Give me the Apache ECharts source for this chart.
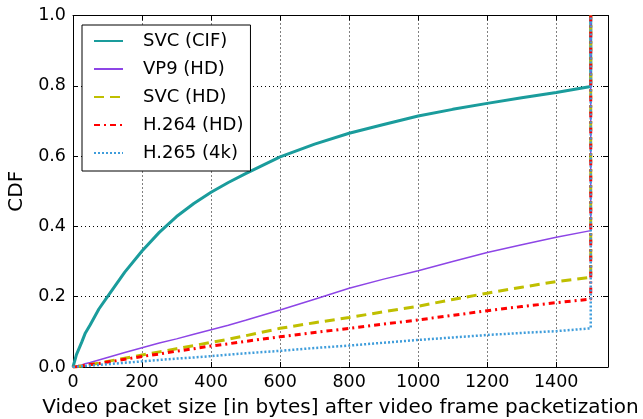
<!DOCTYPE html>
<html>
<head>
<meta charset="utf-8">
<script src="https://cdn.jsdelivr.net/npm/echarts@6/dist/echarts.min.js"></script>
<style>
html,body{margin:0;padding:0;background:#fff;}
#chart{width:643px;height:419px;}
</style>
</head>
<body>
<div id="chart"></div>
<script>
// Packet size (bytes) sample points; last two points form the step at 1500 bytes
const packetSizes = [0, 10, 25, 35, 50, 75, 100, 150, 200, 250, 300, 350, 400, 450, 500, 600, 700, 800, 900, 1000, 1100, 1200, 1300, 1400, 1500, 1500];

const svcCif  = [0, 0.035, 0.07, 0.095, 0.12, 0.165, 0.2, 0.27, 0.33, 0.383, 0.428, 0.465, 0.497, 0.525, 0.55, 0.598, 0.634, 0.665, 0.69, 0.714, 0.733, 0.75, 0.766, 0.781, 0.798, 1.0];
const vp9Hd   = [0, 0.003, 0.006, 0.009, 0.013, 0.02, 0.027, 0.041, 0.055, 0.068, 0.08, 0.093, 0.106, 0.119, 0.133, 0.162, 0.193, 0.224, 0.25, 0.274, 0.3, 0.326, 0.348, 0.369, 0.388, 1.0];
const svcHd   = [0, 0.001, 0.003, 0.005, 0.007, 0.011, 0.016, 0.025, 0.034, 0.043, 0.052, 0.061, 0.07, 0.079, 0.089, 0.11, 0.126, 0.141, 0.157, 0.173, 0.192, 0.21, 0.227, 0.243, 0.255, 1.0];
const h264Hd  = [0, 0.001, 0.003, 0.005, 0.007, 0.01, 0.014, 0.022, 0.03, 0.037, 0.045, 0.052, 0.06, 0.066, 0.073, 0.086, 0.098, 0.11, 0.122, 0.134, 0.147, 0.16, 0.172, 0.183, 0.193, 1.0];
const h265_4k = [0, 0.001, 0.002, 0.003, 0.004, 0.006, 0.008, 0.012, 0.016, 0.02, 0.024, 0.027, 0.031, 0.035, 0.039, 0.046, 0.054, 0.061, 0.069, 0.077, 0.084, 0.091, 0.097, 0.102, 0.11, 1.0];

const seriesNames = ['SVC (CIF)', 'VP9 (HD)', 'SVC (HD)', 'H.264 (HD)', 'H.265 (4k)'];
const xTickValues = [0, 200, 400, 600, 800, 1000, 1200, 1400];
const yTickValues = [0.0, 0.2, 0.4, 0.6, 0.8, 1.0];

const xLabelText = 'Video packet size [in bytes] after video frame packetization';
const yLabelText = 'CDF';

const FONT = 'DejaVu Sans';

function pairs(ys) { return packetSizes.map((x, i) => [x, ys[i]]); }

const styles = [
  { color: '#1a9c9c', width: 3, type: 'solid' },
  { color: '#8d45e6', width: 1.5, type: 'solid' },
  { color: '#bfbf00', width: 3, type: [10, 6] },
  { color: '#ff0000', width: 3, type: [6, 4, 2, 4] },
  { color: '#3f9ddb', width: 2.5, type: [2, 2] }
];
const allData = [svcCif, vp9Hd, svcHd, h264Hd, h265_4k];

const chart = echarts.init(document.getElementById('chart'), null, { renderer: 'canvas' });

const gridLine = { show: true, lineStyle: { color: '#000', width: 1, type: [1, 3] } };

const option = {
  animation: false,
  backgroundColor: '#fff',
  grid: { left: 73, right: 35, top: 15.5, bottom: 52, containLabel: false, outerBoundsMode: 'none' },
  legend: {
    orient: 'vertical',
    left: 82, top: 25,
    padding: [7, 7, 9, 11],
    borderColor: '#000', borderWidth: 1,
    backgroundColor: '#fff',
    itemWidth: 29, itemHeight: 14, itemGap: 10,
    itemStyle: { opacity: 0 },
    textStyle: { fontFamily: FONT, fontSize: 18, color: '#000', lineHeight: 18, padding: [0, 0, 0, 15] },
    data: seriesNames
  },
  xAxis: [
    {
      type: 'value', min: 0, max: 1550, interval: 200,
      name: xLabelText, nameLocation: 'middle', nameGap: 31,
      nameTextStyle: { fontFamily: FONT, fontSize: 20, color: '#000', verticalAlign: 'top' },
      axisLine: { show: true, onZero: false, lineStyle: { color: '#000', width: 1 } },
      axisTick: { show: true, inside: true, length: 5, lineStyle: { color: '#000' } },
      axisLabel: { fontFamily: FONT, fontSize: 17.5, color: '#000', margin: 6, showMaxLabel: false,
        formatter: v => (xTickValues.indexOf(v) >= 0 ? String(v) : '') },
      splitLine: gridLine
    },
    {
      type: 'value', min: 0, max: 1550, interval: 200, position: 'top',
      axisLine: { show: true, onZero: false, lineStyle: { color: '#000', width: 1 } },
      axisTick: { show: true, inside: true, length: 5, lineStyle: { color: '#000' } },
      axisLabel: { show: false },
      splitLine: { show: false }
    }
  ],
  yAxis: [
    {
      type: 'value', min: 0, max: 1, interval: 0.2,
      name: yLabelText, nameLocation: 'middle', nameGap: 45, nameRotate: 90,
      nameTextStyle: { fontFamily: FONT, fontSize: 20, color: '#000' },
      axisLine: { show: true, onZero: false, lineStyle: { color: '#000', width: 1 } },
      axisTick: { show: true, inside: true, length: 5, lineStyle: { color: '#000' } },
      axisLabel: { fontFamily: FONT, fontSize: 17.5, color: '#000', margin: 7,
        formatter: v => v.toFixed(1) },
      splitLine: gridLine
    },
    {
      type: 'value', min: 0, max: 1, interval: 0.2, position: 'right',
      axisLine: { show: true, onZero: false, lineStyle: { color: '#000', width: 1 } },
      axisTick: { show: true, inside: true, length: 5, lineStyle: { color: '#000' } },
      axisLabel: { show: false },
      splitLine: { show: false }
    }
  ],
  series: seriesNames.map((name, i) => ({
    name: name,
    type: 'line',
    xAxisIndex: 0, yAxisIndex: 0,
    data: pairs(allData[i]),
    showSymbol: false, symbol: 'none',
    smooth: false,
    clip: true,
    color: styles[i].color,
    lineStyle: { color: styles[i].color, width: styles[i].width, type: styles[i].type },
    z: 2 + i
  }))
};

chart.setOption(option);
</script>
</body>
</html>
